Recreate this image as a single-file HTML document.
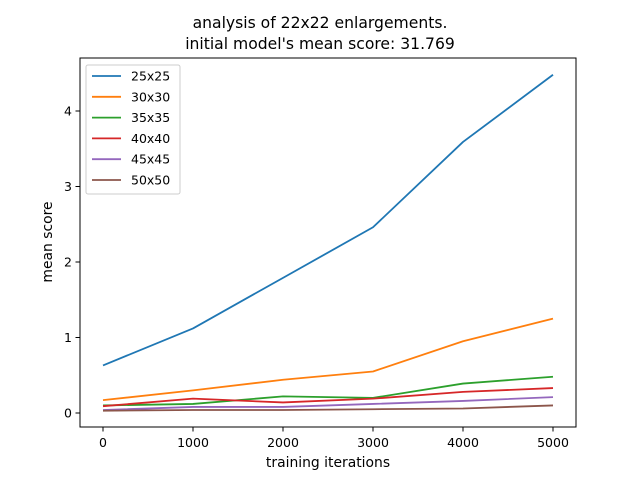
<!DOCTYPE html>
<html><head><meta charset="utf-8"><style>
body{margin:0;background:#fff;font-family:"Liberation Sans","DejaVu Sans",sans-serif;}
svg text{font-family:"DejaVu Sans","Liberation Sans",sans-serif;}
</style></head><body>
<svg id="chart" width="640" height="480" xmlns="http://www.w3.org/2000/svg"></svg>
<script>
const xValues=[0,1000,2000,3000,4000,5000];
const seriesNames=["25x25","30x30","35x35","40x40","45x45","50x50"];
const s25=[0.63,1.12,1.79,2.46,3.59,4.48];
const s30=[0.17,0.30,0.44,0.55,0.95,1.25];
const s35=[0.10,0.12,0.22,0.20,0.39,0.48];
const s40=[0.09,0.19,0.14,0.19,0.28,0.33];
const s45=[0.04,0.08,0.08,0.12,0.16,0.21];
const s50=[0.03,0.04,0.04,0.05,0.06,0.10];
const xTicks=[0,1000,2000,3000,4000,5000];
const yTicks=[0,1,2,3,4];
const colors=["#1f77b4","#ff7f0e","#2ca02c","#d62728","#9467bd","#8c564b"];
const series=[s25,s30,s35,s40,s45,s50];
const NS="http://www.w3.org/2000/svg";
const svg=document.getElementById('chart');
const L=80,R=576,T=58,B=427;
const xs=v=>103+(v-0)*(553-103)/5000;
const ys=v=>413-v*(413-111)/4;
function el(tag,attrs,parent){const e=document.createElementNS(NS,tag);for(const k in attrs)e.setAttribute(k,attrs[k]);(parent||svg).appendChild(e);return e;}
function txt(x,y,s,anchor,size,parent){const t=el('text',{x:x,y:y,'text-anchor':anchor,'font-size':size,fill:'#000'},parent);t.textContent=s;return t;}
let t1=txt(320,28,"analysis of 22x22 enlargements.","middle",15.6);


let t2=txt(320,49,"initial model's mean score: 31.769","middle",15.6);


series.forEach((s,i)=>{
  const p=el('polyline',{points:s.map((v,j)=>xs(xValues[j])+','+ys(v)).join(' '),fill:'none',stroke:colors[i],'stroke-width':1.8,'stroke-linejoin':'round'});
  
  
});
const fr=el('rect',{x:L,y:T,width:R-L,height:B-T,fill:'none',stroke:'#000','stroke-width':1});


xTicks.forEach(v=>{
  const x=xs(v);
  const tk=el('line',{x1:x,x2:x,y1:B,y2:B+4.5,stroke:'#000','stroke-width':1});
  
  
  const lb=txt(x,B+20,String(v),'middle',12.5);
  
  
});
yTicks.forEach(v=>{
  const y=ys(v);
  const tk=el('line',{x1:L-4.5,x2:L,y1:y,y2:y,stroke:'#000','stroke-width':1});
  
  
  const lb=txt(L-8,y+4.5,String(v),'end',12.5);
  
  
});
const xl=txt(328,467,"training iterations","middle",13.9);


const yl=txt(0,0,"mean score","middle",13.9);
yl.setAttribute('transform','translate(52,242) rotate(-90)');


const lg=el('g',{});


el('rect',{x:86,y:65,width:94,height:129,rx:2,fill:'#fff','fill-opacity':0.8,stroke:'#ccc','stroke-width':1},lg);
seriesNames.forEach((n,i)=>{
  const y=76+i*20.8;
  const g=el('g',{},lg);
  
  
  el('line',{x1:92,x2:121,y1:y,y2:y,stroke:colors[i],'stroke-width':1.8},g);
  txt(131,y+4.5,n,'start',12.5,g);
});
</script>
</body></html>
